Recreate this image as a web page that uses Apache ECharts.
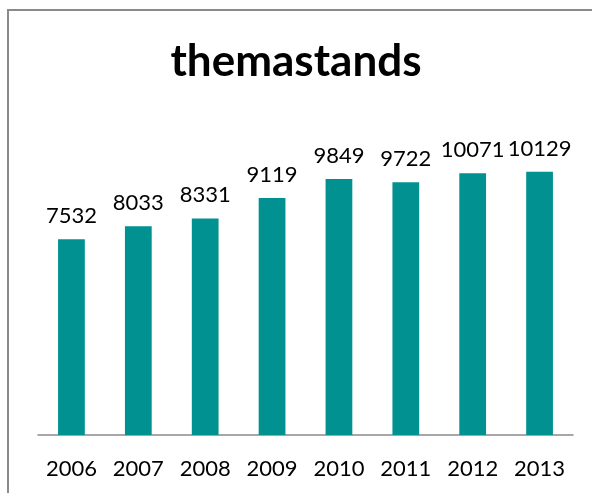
<!DOCTYPE html>
<html><head><meta charset="utf-8">
<script src="https://cdn.jsdelivr.net/npm/echarts@6/dist/echarts.min.js"></script>
<style>html,body{margin:0;padding:0;background:#fff}#c{width:592px;height:493px}</style>
</head><body><div id="c"></div>
<script>
const categories = ['2006','2007','2008','2009','2010','2011','2012','2013'];
const values = [7532, 8033, 8331, 9119, 9849, 9722, 10071, 10129];
const titleText = 'themastands';
const chart = echarts.init(document.getElementById('c'));
chart.setOption({
  animation: false,
  title: { text: titleText, left: 'center', top: 35,
    textStyle: { fontFamily: 'Lato', fontWeight: 'bold', fontSize: 44, color: '#000' } },
  graphic: [{ type: 'rect', shape: { x: 8, y: 10, width: 700, height: 600 },
    style: { fill: 'none', stroke: '#8a8a8a', lineWidth: 2 }, silent: true }],
  grid: { left: 38, right: 19, top: 123, bottom: 58 },
  xAxis: { type: 'category', data: categories,
    axisLine: { lineStyle: { color: '#8a8a8a', width: 1.5 } },
    axisTick: { show: false },
    axisLabel: { margin: 23, fontFamily: 'Lato', fontSize: 22, color: '#000' } },
  yAxis: { type: 'value', min: 0, max: 12000, show: false, splitLine: { show: false } },
  series: [{ type: 'bar', data: values, barCategoryGap: '60%',
    itemStyle: { color: '#009190' },
    label: { show: true, position: 'top', distance: 12, fontFamily: 'Lato', fontSize: 22, color: '#000' } }]
});
</script></body></html>
